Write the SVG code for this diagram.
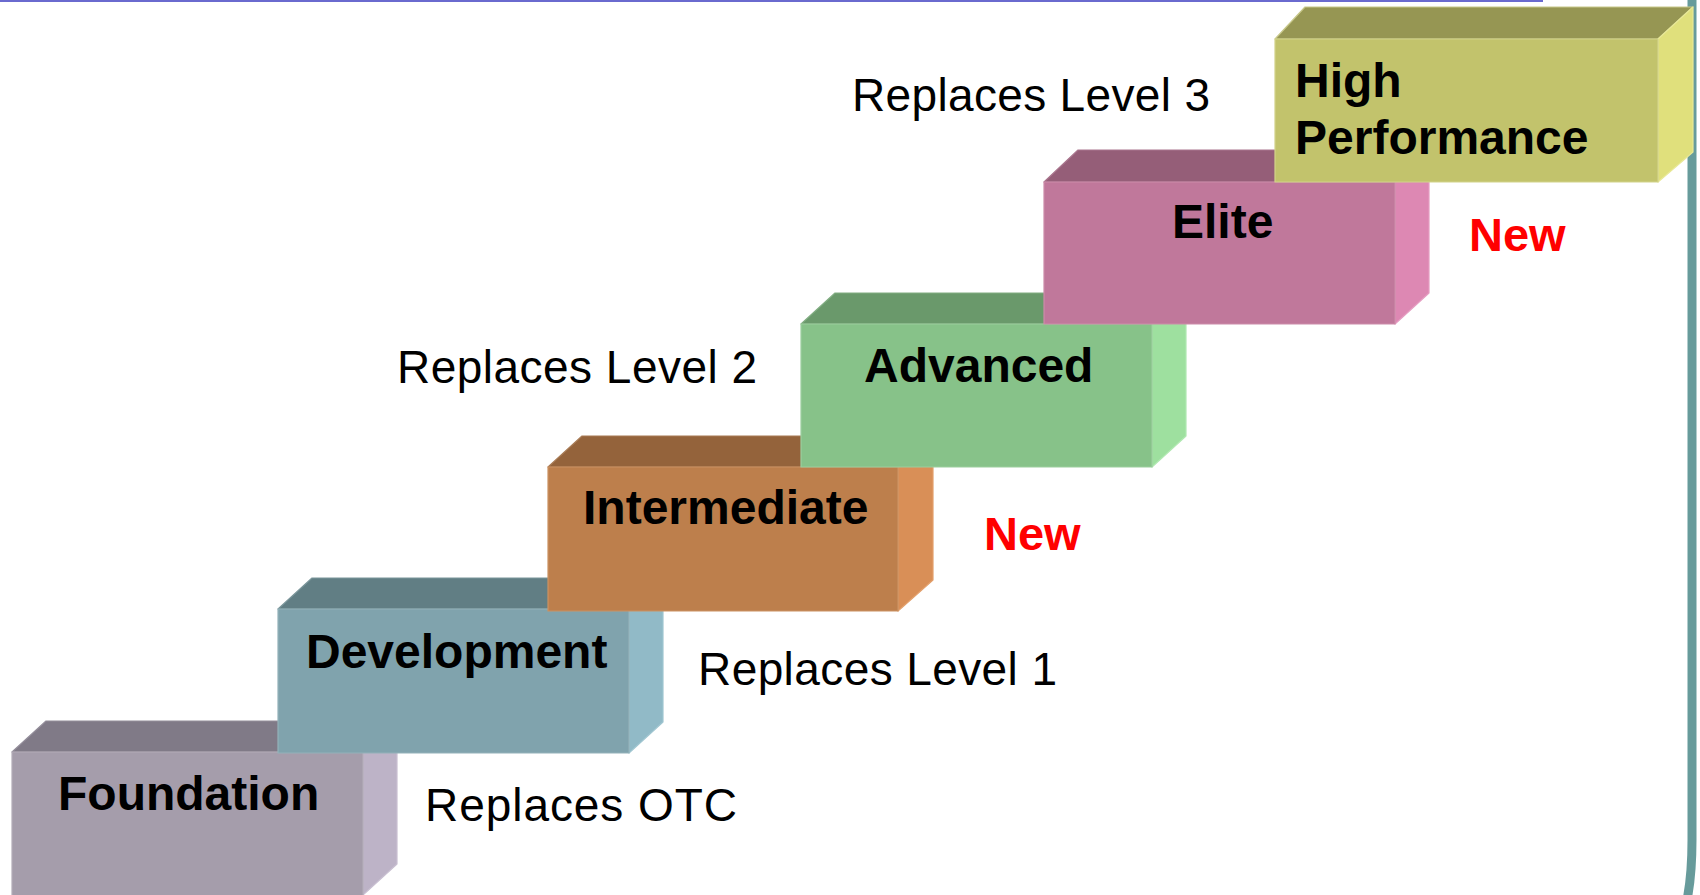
<svg xmlns="http://www.w3.org/2000/svg" width="1700" height="895" viewBox="0 0 1700 895">
<style>
.lbl{font-family:"Liberation Sans",Arial,sans-serif;font-weight:bold;font-size:48px;fill:#000}
.note{font-family:"Liberation Sans",Arial,sans-serif;font-size:46px;fill:#000}
.new{font-family:"Liberation Sans",Arial,sans-serif;font-weight:bold;font-size:47px;fill:#ff0000}
.edge{stroke-width:1.2;stroke-linejoin:round}
</style>
<rect width="1700" height="895" fill="#ffffff"/>
<line x1="0" y1="1" x2="1543" y2="1" stroke="#6a6acf" stroke-width="2"/>
<path d="M1692,-5 L1692,840 Q1692,875 1687,900" fill="none" stroke="#679b9b" stroke-width="9"/>
<g id="foundation">
<polygon class="edge" points="12,752 46,721 397,721 363,752" fill="#807a87" stroke="#938d9a"/>
<polygon class="edge" points="363,752 397,721 397,864 363,895" fill="#bdb3c7" stroke="#c8bfd1"/>
<rect class="edge" x="12" y="752" width="351" height="150" fill="#a59dab" stroke="#b3acb8"/>
<text class="lbl" x="58" y="810">Foundation</text>
</g>
<g id="development">
<polygon class="edge" points="278,609 312,578 663,578 629,609" fill="#617e84" stroke="#7a959a"/>
<polygon class="edge" points="629,609 663,578 663,722 629,753" fill="#91bac7" stroke="#a0c6d1"/>
<rect class="edge" x="278" y="609" width="351" height="144" fill="#80a3ad" stroke="#93b2ba"/>
<text class="lbl" x="306" y="668">Development</text>
</g>
<g id="intermediate">
<polygon class="edge" points="548,467 582,436 933,436 898,467" fill="#94633b" stroke="#a87b55"/>
<polygon class="edge" points="898,467 933,436 933,580 898,611" fill="#d98f57" stroke="#e3a06c"/>
<rect class="edge" x="548" y="467" width="350" height="144" fill="#bd7f4c" stroke="#cb9262"/>
<text class="lbl" x="583" y="524">Intermediate</text>
</g>
<g id="advanced">
<polygon class="edge" points="801,324 835,293 1186,293 1152,324" fill="#6a996b" stroke="#81ad82"/>
<polygon class="edge" points="1152,324 1186,293 1186,436 1152,467" fill="#9ee09f" stroke="#b0e8b1"/>
<rect class="edge" x="801" y="324" width="351" height="143" fill="#87c289" stroke="#9ccd9e"/>
<text class="lbl" x="864" y="382">Advanced</text>
</g>
<g id="elite">
<polygon class="edge" points="1044,182 1078,150 1429,150 1395,182" fill="#955e78" stroke="#a9758d"/>
<polygon class="edge" points="1395,182 1429,150 1429,293 1395,324" fill="#dd88b3" stroke="#e59cc1"/>
<rect class="edge" x="1044" y="182" width="351" height="142" fill="#c0789b" stroke="#cc8ca9"/>
<text class="lbl" x="1172" y="238">Elite</text>
</g>
<g id="high-performance">
<polygon class="edge" points="1275,39 1305,7 1693,7 1658,39" fill="#969653" stroke="#c8c88a"/>
<polygon class="edge" points="1658,39 1693,7 1693,152 1658,182" fill="#e0e07c" stroke="#e8e896"/>
<rect class="edge" x="1275" y="39" width="383" height="143" fill="#c2c36c" stroke="#d2d38a"/>
<text class="lbl" x="1295" y="97">High</text>
<text class="lbl" x="1295" y="154">Performance</text>
</g>
<g id="notes">
<text class="note" x="852" y="111" textLength="358" lengthAdjust="spacing">Replaces Level 3</text>
<text class="note" x="397" y="383" textLength="360" lengthAdjust="spacing">Replaces Level 2</text>
<text class="note" x="698" y="685" textLength="359" lengthAdjust="spacing">Replaces Level 1</text>
<text class="note" x="425" y="821" textLength="312" lengthAdjust="spacing">Replaces OTC</text>
<text class="new" x="984" y="550">New</text>
<text class="new" x="1469" y="251">New</text>
</g>
<g id="connectors"/>
</svg>
